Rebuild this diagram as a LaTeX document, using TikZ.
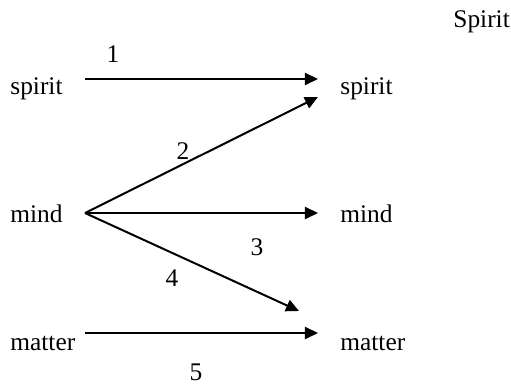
\documentclass[tikz,border=0pt]{standalone}
\usepackage{fontspec}
\setmainfont{Liberation Serif}
\usetikzlibrary{arrows.meta}
\begin{document}
\begin{tikzpicture}[x=0.5pt,y=-0.5pt,
  lbl/.style={anchor=base west,inner sep=0pt,font=\fontsize{12.7}{15}\selectfont},
  num/.style={anchor=base,inner sep=0pt,font=\fontsize{12.7}{15}\selectfont},
  arr/.style={line width=1pt,-{Triangle[length=6.5pt,width=6pt]}}]
\useasboundingbox (0,0) rectangle (511,385);
\node[lbl] (title) at (453,28) {Spirit};
\node[lbl] (lspirit) at (10,95) {spirit};
\node[lbl] (lmind) at (10,223) {mind};
\node[lbl] (lmatter) at (10,351) {matter};
\node[lbl] (rspirit) at (340,95) {spirit};
\node[lbl] (rmind) at (340,223) {mind};
\node[lbl] (rmatter) at (340,351) {matter};
\node[num] (n1) at (113,63) {1};
\node[num] (n2) at (183,160) {2};
\node[num] (n3) at (257,256) {3};
\node[num] (n4) at (172,287) {4};
\node[num] (n5) at (196,381) {5};
\coordinate (s1) at (85,79);
\coordinate (s2) at (85,213);
\coordinate (s5) at (85,333);
\coordinate (e1) at (318,79);
\coordinate (e2) at (318,97);
\coordinate (e3) at (318,213);
\coordinate (e4) at (299,311);
\coordinate (e5) at (318,333);
\draw[arr] (s1) -- (e1);
\draw[arr] (s2) -- (e2);
\draw[arr] (s2) -- (e3);
\draw[arr] (s2) -- (e4);
\draw[arr] (s5) -- (e5);
\end{tikzpicture}
\end{document}
